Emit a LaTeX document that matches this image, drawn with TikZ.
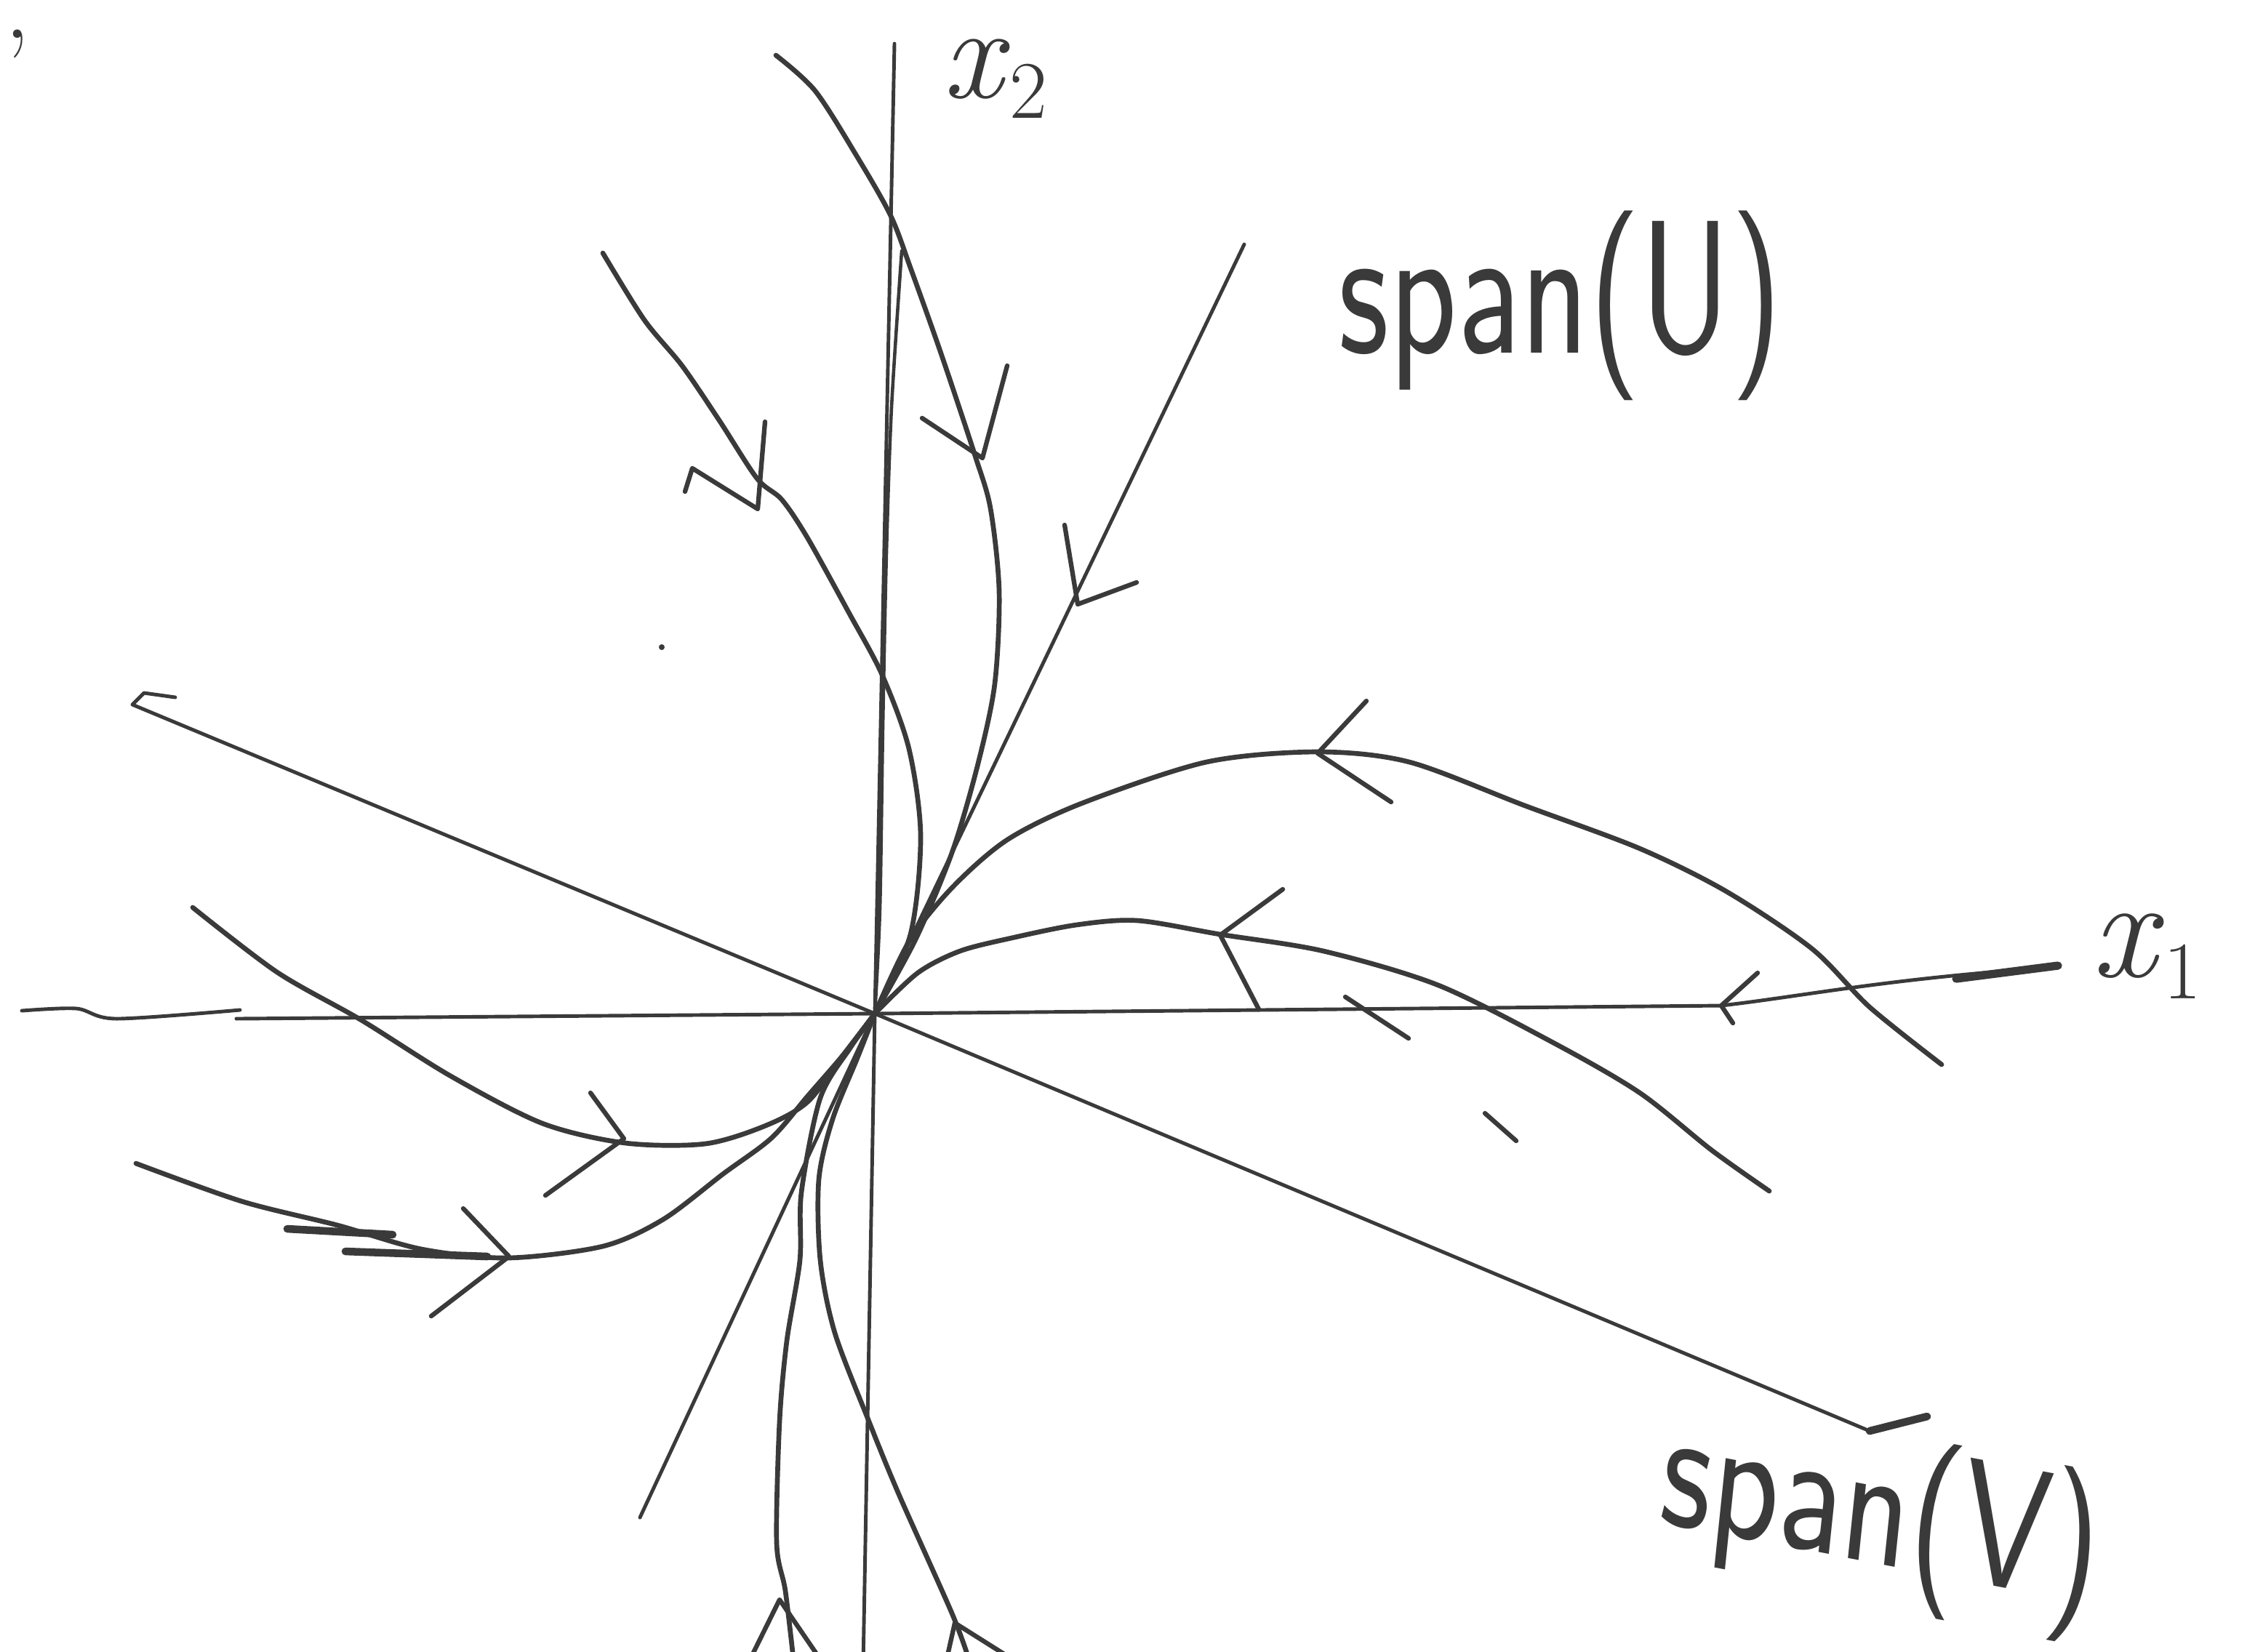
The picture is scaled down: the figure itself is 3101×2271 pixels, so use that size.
\documentclass[tikz,border=0pt]{standalone}
\usepackage{fontspec}
\definecolor{inkgray}{HTML}{3A3A3A}
\newcommand{\subidx}[1]{\raisebox{-0.35ex}{\fontsize{32}{34}\selectfont #1}}
\begin{document}
\begin{tikzpicture}[x=0.01cm, y=-0.01cm, line cap=round, line join=round,
  ink/.style={draw=inkgray, line width=1.9pt},
  axisline/.style={draw=inkgray, line width=1.4pt},
  barb/.style={draw=inkgray, line width=1.8pt},
  hand/.style={text=inkgray, inner sep=0pt, font=\sffamily\fontsize{55}{60}\selectfont, yscale=1.35, transform shape}]
	% Picture window, pixel units, y pointing down
	\useasboundingbox (0,0) rectangle (3101,2271);
	\clip (0,0) rectangle (3101,2271);
	\coordinate (O) at (1203,1394);
	
	% Axes
	\draw[axisline] plot[smooth] coordinates {(30,1390) (105,1387) (160,1401) (330,1389)};
	\draw[axisline] (325,1401) -- (O) -- (2367,1383) .. controls (2480,1370) and (2600,1345) .. (2830,1330);
	\draw[inkgray, line width=3.2pt] (2690,1346) -- (2830,1328);
	\draw[barb] (2417,1338) -- (2367,1383) -- (2383,1407);
	\draw[axisline] (1230,60) -- (O) -- (1187,2290);
	
	% Eigen-directions
	\draw[axisline] (1711,336) -- (O) -- (880,2087);
	\draw[axisline] (241,959) -- (198,953) -- (182,969) -- (O) -- (2571,1968);
	\draw[inkgray, line width=3pt] (2571,1968) -- (2650,1948);
	\draw[barb] (1464,722) -- (1482,831) -- (1563,801);
	
	% Trajectories, upper half
	\draw[ink] plot[smooth] coordinates {(829,348) (886,440) (938,503) (989,578) (1041,658) (1075,687) (1110,739) (1167,842) (1213,928) (1250,1030) (1266,1150) (1252,1285) (O)};
	\draw[barb] (1052,580) -- (1042,700) -- (952,644) -- (942,676);
	\draw[ink] plot[smooth] coordinates {(1067,76) (1121,125) (1179,216) (1225,297) (1253,371) (1294,486) (1340,624) (1362,699) (1374,813) (1368,940) (1345,1050) (1310,1170) (1260,1290) (O)};
	\draw[barb] (1385,503) -- (1351,630) -- (1268,575);
	\draw[ink, line width=1.3pt] plot[smooth] coordinates {(1240,345) (1226,560) (1219,760) (1214,1000) (1210,1250) (O)};
	
	% Trajectories, right
	\draw[ink] plot[smooth] coordinates {(O) (1250,1295) (1310,1220) (1385,1155) (1487,1105) (1659,1048) (1812,1034) (1938,1048) (2097,1108) (2255,1167) (2374,1226) (2492,1305) (2571,1385) (2670,1464)};
	\draw[barb] (1879,964) -- (1812,1036) -- (1913,1103);
	\draw[ink] plot[smooth] coordinates {(O) (1262,1338) (1320,1308) (1391,1290) (1480,1272) (1564,1266) (1678,1285) (1820,1308) (1978,1355) (2136,1434) (2255,1503) (2354,1582) (2433,1638)};
	\draw[barb] (1764,1223) -- (1678,1286) -- (1731,1388);
	\draw[barb] (1850,1371) -- (1937,1428);
	\draw[barb] (2042,1531) -- (2085,1569);
	
	% Trajectories, left
	\draw[ink] plot[smooth] coordinates {(265,1248) (381,1337) (497,1403) (620,1480) (746,1545) (860,1572) (970,1573) (1053,1548) (1111,1515) (1161,1449) (O)};
	\draw[barb] (812,1503) -- (858,1566) -- (750,1644);
	\draw[ink] plot[smooth] coordinates {(187,1600) (332,1652) (464,1685) (580,1718) (698,1730) (829,1714) (912,1677) (995,1614) (1061,1565) (1111,1507) (1161,1449) (O)};
	\draw[inkgray, line width=3pt] (395,1690) -- (540,1698);
	\draw[inkgray, line width=3pt] (475,1721) -- (670,1728);
	\draw[barb] (637,1662) -- (700,1728) -- (593,1810);
	
	% Trajectories, lower half
	\draw[ink] plot[smooth] coordinates {(O) (1170,1440) (1128,1510) (1102,1640) (1100,1733) (1082,1844) (1072,1955) (1068,2122) (1080,2188) (1092,2290)};
	\draw[barb] (1030,2285) -- (1072,2200) -- (1128,2282);
	\draw[ink] plot[smooth] coordinates {(O) (1179,1455) (1145,1539) (1126,1622) (1128,1733) (1148,1833) (1195,1955) (1236,2055) (1310,2221) (1335,2290)};
	\draw[barb] (1300,2290) -- (1313,2232) -- (1405,2290);
	\fill[inkgray] (910,890) circle (4);
	
	% Labels
	\node[hand] (spanU) at (2146,420) {span(U)};
	\node[hand, rotate=-8, yscale=0.93] (spanV) at (2586,2090) {span(V)};
	\node[text=inkgray, font=\fontsize{52}{56}\selectfont] (xtwo) at (1368,108) {\textit{x}\subidx{2}};
	\node[text=inkgray, font=\fontsize{56}{60}\selectfont] (xone) at (2952,1315) {\textit{x}\subidx{1}};
	\node[text=inkgray, font=\fontsize{40}{44}\selectfont] (comma) at (24,60) {,};
\end{tikzpicture}
\end{document}
